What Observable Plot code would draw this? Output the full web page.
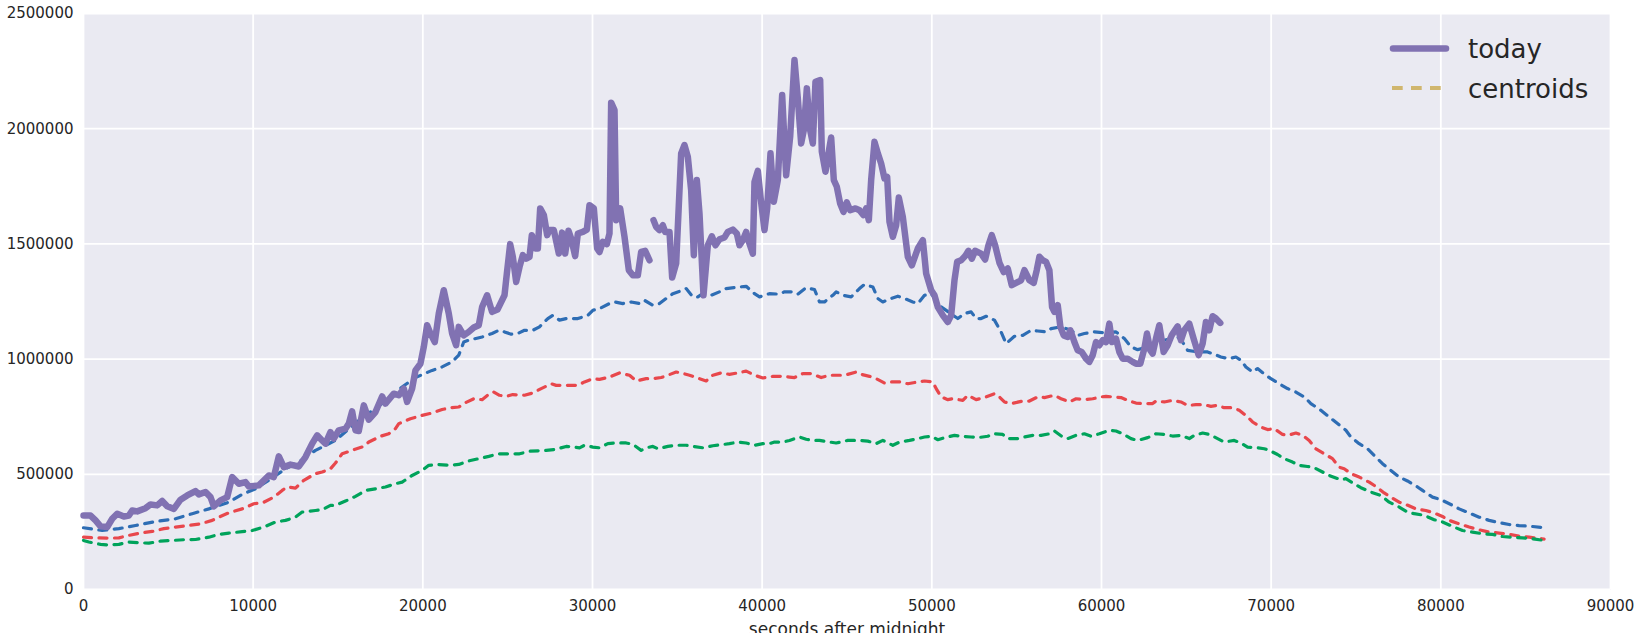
<!DOCTYPE html>
<html>
<head>
<meta charset="utf-8">
<script src="https://cdn.jsdelivr.net/npm/d3@7"></script>
<script src="https://cdn.jsdelivr.net/npm/@observablehq/plot@0.6"></script>
<style>
  html, body { margin: 0; padding: 0; background: #fff; overflow: hidden; }
  #chart svg { display: block; }
</style>
</head>
<body>
<div id="chart"></div>
<script>
// ---------- tick labels ----------
const xTicks = [0, 10000, 20000, 30000, 40000, 50000, 60000, 70000, 80000, 90000];
const yTicks = [0, 500000, 1000000, 1500000, 2000000, 2500000];
const xLabel = "seconds after midnight";
const legendLabels = ["today", "centroids"];

// ---------- "today" series (null = gap in the data) ----------
const todaySeconds = [0,415,710,1005,1398,1692,1987,2380,2674,2871,3165,3656,3951,4344,4638,4933,5326,5718,6111,6602,6799,7192,7486,7683,8075,8468,8763,9155,9548,9745,10334,10923,11218,11512,11807,12200,12691,13083,13476,13771,14066,14262,14557,14753,15048,15440,15637,15833,16030,16226,16521,16815,17208,17601,17797,18288,18583,18877,19074,19368,19565,19859,20056,20252,20448,20704,20940,21234,21529,21725,21961,22118,22412,22707,23002,23296,23493,23787,24082,24400,
24813,24951,25147,25305,25501,25698,25894,26091,26287,26425,26621,26778,26916,27132,27328,27466,27721,28016,28212,28389,28586,28743,28978,29136,29430,29666,29823,30079,30275,30413,30609,30845,31002,31100,31297,31395,31631,31886,32141,32377,32672,32868,33104,33359,33477,
33595,33752,33949,34145,34283,34538,34695,34931,35226,35422,35619,35815,35972,36149,36306,36542,36797,37033,37249,37485,37780,37976,38271,38507,38664,38860,39057,39214,39450,39548,39744,39901,40137,40294,40491,40687,40923,41178,41414,41650,41905,42101,42298,42455,42632,42828,42986,43143,43418,43516,43732,43909,44066,44223,44400,44597,44793,44990,45186,45500,45736,45972,46129,46286,46424,46620,46817,47013,47210,47367,47504,47701,47897,48054,48290,48585,48821,49174,
49470,49568,49666,49961,50157,50353,50648,50942,51139,51335,51492,51727,51963,52159,52356,52552,52905,53141,53337,53533,53730,53985,54240,54476,54711,54966,55261,55457,55752,56007,56183,56340,56537,56733,56929,57086,57224,57420,57577,57773,58009,58166,58402,58598,58834,59089,59285,59481,59678,59874,60070,60266,60463,60620,60855,61052,61248,61542,61837,62033,62288,62524,62681,62877,63015,63211,63407,63663,63898,64134,64330,64487,64683,64880,65174,65429,65724,65959,66156,66352,66548,66745,67000];
const todayValues = [321000,321000,300000,274000,271000,307000,329000,317000,321000,343000,339000,353000,369000,365000,384000,361000,350000,390000,408000,427000,413000,423000,401000,361000,387000,401000,488000,459000,466000,447000,452000,495000,488000,578000,531000,542000,534000,575000,633000,669000,647000,633000,683000,655000,691000,698000,720000,773000,691000,688000,799000,737000,770000,838000,807000,850000,843000,872000,814000,872000,951000,980000,1053000,1147000,1111000,1074000,1198000,1299000,1198000,1111000,1060000,1140000,1103000,1118000,1137000,1147000,1226000,1277000,1205000,1215000,
1277000,1371000,1499000,1444000,1335000,1400000,1451000,1436000,1444000,1538000,1480000,1480000,1654000,1625000,1538000,1560000,1560000,1458000,1549000,1458000,1557000,1523000,1447000,1545000,1552000,1562000,1668000,1654000,1480000,1465000,1509000,1499000,1545000,2113000,2081000,1603000,1654000,1531000,1386000,1364000,1364000,1465000,1470000,1429000,null,
1603000,1574000,1560000,1581000,1552000,1552000,1354000,1415000,1893000,1929000,1878000,1733000,1451000,1777000,1632000,1277000,1494000,1533000,1494000,1520000,1528000,1552000,1562000,1545000,1494000,1516000,1552000,1509000,1458000,1769000,1817000,1704000,1560000,1654000,1893000,1683000,1777000,2146000,1798000,1965000,2298000,2131000,1936000,1994000,2175000,1994000,1936000,2204000,2211000,1900000,1813000,1893000,1962000,1777000,1748000,1675000,1639000,1680000,1646000,1654000,1646000,1625000,1654000,1603000,1777000,1943000,1893000,1849000,1784000,1791000,1596000,1531000,1581000,1701000,1617000,1444000,1407000,1480000,
1516000,1444000,1371000,1299000,1277000,1226000,1190000,1161000,1190000,1342000,1422000,1429000,1447000,1470000,1436000,1470000,1458000,1432000,1494000,1538000,1494000,1418000,1378000,1393000,1321000,1331000,1342000,1386000,1342000,1331000,1386000,1444000,1429000,1422000,1386000,1226000,1205000,1234000,1140000,1103000,1096000,1125000,1074000,1038000,1031000,1002000,988000,1017000,1074000,1060000,1082000,1074000,1154000,1074000,1089000,1031000,1002000,1002000,988000,980000,980000,1045000,1111000,1038000,1024000,1089000,1147000,1031000,1060000,1103000,1125000,1142000,1082000,1125000,1154000,1089000,1017000,1067000,1161000,1125000,1186000,1176000,1157000];

// ---------- centroid series ----------
const centroidBlueSeconds = [0,1103,2085,3067,4245,5424,6406,7388,8566,9352,10137,10923,11905,12691,13673,14851,16226,17601,18779,19565,20547,21136,21725,22118,22412,22707,23493,24082,24475,24813,25206,25599,25992,26483,26876,27367,27662,28055,28448,29136,29725,30020,30413,31002,31297,31788,32279,32770,33065,33556,33949,34342,34735,35324,35520,35913,36208,36503,36994,37485,37878,38664,39057,39548,39843,40432,41021,41316,41807,42102,42593,43084,43379,43674,44165,44361,44754,45245,45736,46031,46522,46817,47112,47603,47996,48389,48880,49176,49568,49961,50550,51531,51924,52316,52611,52905,53200,53690,54083,54377,54868,55359,55850,56243,56733,57028,57616,58205,58598,58991,59580,60168,60855,61346,61739,62131,62720,63701,64487,64781,65076,65665,66254,66646,67039,67530,67922,68217,68511,68904,69198,69689,69983,70474,70965,71456,71946,72339,72928,73419,73910,74403,74697,75188,75679,76170,76563,77054,77545,78036,78625,78920,79509,80000,80589,81080,81669,82259,82848,83437,84026,84615,85205,86088];
const centroidBlueValues = [268000,256000,264000,278000,295000,307000,329000,350000,379000,413000,437000,474000,524000,553000,604000,647000,734000,807000,879000,920000,951000,966000,988000,1017000,1074000,1082000,1096000,1111000,1125000,1118000,1108000,1111000,1125000,1125000,1140000,1176000,1190000,1169000,1176000,1176000,1190000,1212000,1219000,1241000,1248000,1241000,1248000,1241000,1255000,1234000,1241000,1263000,1284000,1299000,1306000,1270000,1270000,1284000,1277000,1292000,1306000,1313000,1316000,1284000,1270000,1284000,1282000,1292000,1292000,1282000,1310000,1302000,1248000,1248000,1277000,1292000,1277000,1270000,1306000,1324000,1313000,1263000,1248000,1263000,1273000,1263000,1248000,1241000,1277000,1284000,1227000,1176000,1198000,1205000,1176000,1176000,1186000,1169000,1118000,1067000,1099000,1103000,1125000,1122000,1118000,1132000,1140000,1125000,1103000,1111000,1118000,1114000,1118000,1089000,1053000,1041000,1053000,1082000,1096000,1074000,1038000,1031000,1031000,1021000,1009000,1002000,1009000,995000,966000,944000,959000,930000,915000,893000,872000,857000,836000,807000,778000,749000,720000,691000,662000,633000,611000,575000,546000,517000,488000,471000,445000,430000,401000,390000,369000,350000,332000,314000,300000,290000,282000,277000,275000,268000];

const centroidRedSeconds = [0,907,1496,2085,2674,3362,4049,4737,5424,6209,6897,7584,7977,8566,9352,10039,10628,11218,11709,12003,12494,12985,13673,14066,14557,14851,15244,15833,16521,16815,17503,17994,18386,18583,19270,19957,20547,21136,21529,22118,22412,23002,23493,23886,24180,24519,24912,25305,25992,26483,26975,27564,27859,28644,29136,29529,30020,30413,31002,31591,32181,32574,33163,33556,34047,34440,34931,35226,35717,36306,36699,37092,37583,38074,38566,39057,39548,40039,40628,41021,41611,41905,42396,42888,43477,43968,44459,44852,45540,45834,46326,46719,47210,47603,48094,48585,49174,49568,50059,50255,50550,50942,51237,51826,52120,52611,53102,53690,53887,54279,54672,55359,55752,56243,56635,57224,57616,58107,58500,58991,59481,59972,60266,60659,61150,61542,62033,62524,63015,63211,63701,64192,64683,65076,65566,66057,66450,66843,67235,67726,68119,68609,68904,69394,69787,70180,70670,70965,71456,71848,72241,72633,73124,73615,74010,74304,74697,75188,75777,76170,76661,77054,77545,77938,78527,79116,79607,80098,80491,81080,81669,82259,82848,83437,84026,84615,85205,86088];
const centroidRedValues = [227000,224000,223000,224000,235000,245000,252000,264000,271000,278000,285000,300000,314000,333000,350000,372000,379000,401000,430000,445000,440000,474000,503000,510000,524000,549000,589000,604000,621000,640000,665000,676000,698000,720000,741000,756000,766000,781000,788000,792000,807000,828000,824000,847000,857000,843000,838000,846000,843000,853000,872000,893000,886000,886000,886000,901000,915000,912000,922000,940000,930000,905000,915000,915000,920000,930000,944000,940000,930000,915000,905000,930000,940000,934000,940000,948000,930000,918000,925000,925000,922000,920000,937000,937000,920000,930000,930000,930000,944000,934000,925000,915000,896000,901000,901000,893000,901000,905000,901000,872000,836000,824000,828000,821000,843000,824000,833000,850000,843000,814000,807000,818000,818000,836000,833000,843000,828000,814000,828000,824000,828000,836000,838000,836000,833000,821000,809000,807000,807000,818000,814000,821000,814000,799000,802000,802000,795000,799000,789000,789000,778000,749000,727000,705000,694000,698000,673000,669000,679000,669000,647000,611000,589000,568000,531000,524000,503000,488000,466000,447000,419000,401000,379000,369000,350000,343000,332000,317000,300000,285000,271000,259000,249000,245000,239000,232000,227000,219000];

const centroidGreenSeconds = [0,317,1005,1496,2085,2674,3263,3853,4540,5228,5915,6602,7388,7977,8566,9352,9941,10628,11316,11905,12494,12887,13673,14066,14557,14851,15440,16030,16619,17208,17797,18386,18779,19368,19957,20350,20939,21529,22118,22707,23296,23886,24475,25108,25698,26287,27269,27760,28448,29234,29529,30020,30413,30904,31297,31984,32377,32868,33163,33556,33851,34440,34931,35520,35913,36503,37092,37583,38074,38566,39057,39548,40039,40432,40727,41218,41611,42200,42593,42986,43379,43968,44361,45049,45736,46227,46719,47112,47701,48094,48683,49174,49568,49961,50353,50746,51335,51727,52316,52709,53298,53592,54181,54476,55065,55457,55948,56439,56929,57224,57714,58009,58500,58991,59383,59874,60463,60855,61248,61739,62131,62720,63211,63701,64192,64683,65174,65468,65959,66352,66843,67235,67824,68217,68609,69198,69591,69885,70376,70769,71260,71652,72143,72535,73026,73419,74108,74403,74894,75286,75876,76465,76956,77545,78036,78429,79018,79607,80098,80687,81277,81866,82455,83044,83633,84223,84812,85401,86088];
const centroidGreenValues = [213000,206000,196000,193000,196000,206000,203000,201000,210000,213000,216000,217000,227000,239000,245000,251000,256000,271000,293000,300000,314000,336000,343000,346000,365000,365000,384000,404000,430000,437000,445000,459000,466000,495000,517000,539000,542000,539000,543000,558000,568000,578000,589000,589000,589000,600000,604000,607000,621000,615000,626000,618000,615000,633000,636000,636000,630000,604000,615000,621000,611000,621000,626000,626000,621000,615000,624000,628000,633000,640000,636000,626000,633000,633000,640000,640000,647000,662000,652000,647000,647000,640000,636000,647000,647000,644000,633000,647000,626000,640000,647000,655000,662000,665000,650000,659000,669000,665000,662000,659000,665000,676000,673000,655000,655000,662000,669000,669000,676000,688000,662000,655000,669000,676000,665000,676000,691000,688000,676000,655000,647000,659000,676000,673000,666000,669000,655000,669000,679000,673000,655000,640000,647000,636000,618000,615000,611000,604000,586000,568000,553000,539000,534000,529000,510000,495000,476000,481000,459000,442000,423000,408000,379000,358000,336000,329000,322000,303000,293000,274000,256000,249000,242000,239000,230000,227000,224000,220000,213000];

// ---------- tables built from the arrays ----------
const toRows = (xs, ys) => xs.map((s, i) => ({s, v: ys[i]}));
const today = toRows(todaySeconds, todayValues);
const blue = toRows(centroidBlueSeconds, centroidBlueValues);
const red = toRows(centroidRedSeconds, centroidRedValues);
const green = toRows(centroidGreenSeconds, centroidGreenValues);

const fmt = d => String(d);
const gridStyle = {stroke: "#ffffff", strokeOpacity: 1, strokeWidth: 1.8};
const dashStyle = {x: "s", y: "v", strokeWidth: 3.2, strokeDasharray: "8,7.5", strokeLinejoin: "round"};

const chart = Plot.plot({
  width: 1642,
  height: 633,
  marginLeft: 83,
  marginRight: 32,
  marginTop: 13,
  marginBottom: 44,
  x: {domain: [0, 90000]},
  y: {domain: [0, 2500000]},
  style: {fontFamily: "'DejaVu Sans', sans-serif", fontSize: "15px", color: "#262626", background: "#ffffff"},
  marks: [
    Plot.frame({fill: "#EAEAF2", stroke: null}),
    Plot.gridX(xTicks, gridStyle),
    Plot.gridY(yTicks, gridStyle),
    Plot.axisX(xTicks, {tickSize: 0, tickPadding: 11, tickFormat: fmt, label: null, fontSize: 15}),
    Plot.axisY(yTicks, {tickSize: 0, tickPadding: 10, tickFormat: fmt, label: null, fontSize: 15}),
    Plot.line(blue, {...dashStyle, stroke: "#2E6DB4"}),
    Plot.line(red, {...dashStyle, stroke: "#E8474C"}),
    Plot.line(green, {...dashStyle, stroke: "#00A35B"}),
    Plot.line(today, {x: "s", y: "v", stroke: "#8172B2", strokeWidth: 6.5, strokeLinejoin: "round", strokeLinecap: "round"}),
    Plot.text([xLabel], {frameAnchor: "bottom", dy: 45, lineAnchor: "bottom", fontSize: 17, fill: "#262626"})
  ]
});
document.getElementById("chart").appendChild(chart);

// ---------- legend (seaborn style, no frame) ----------
const lg = d3.select(chart).append("g")
  .attr("font-family", "'DejaVu Sans', sans-serif")
  .attr("font-size", 26)
  .attr("text-anchor", "start")
  .attr("fill", "#262626");
lg.append("line")
  .attr("x1", 1393).attr("x2", 1446).attr("y1", 48.5).attr("y2", 48.5)
  .attr("stroke", "#8172B2").attr("stroke-width", 6.5).attr("stroke-linecap", "round");
lg.append("line")
  .attr("x1", 1392).attr("x2", 1441).attr("y1", 88).attr("y2", 88)
  .attr("stroke", "#D0B66E").attr("stroke-width", 4).attr("stroke-dasharray", "10.7,8.3");
lg.append("text").attr("x", 1468).attr("y", 57.5).attr("text-anchor", "start").text(legendLabels[0]);
lg.append("text").attr("x", 1468).attr("y", 97.5).attr("text-anchor", "start").text(legendLabels[1]);
</script>
</body>
</html>
